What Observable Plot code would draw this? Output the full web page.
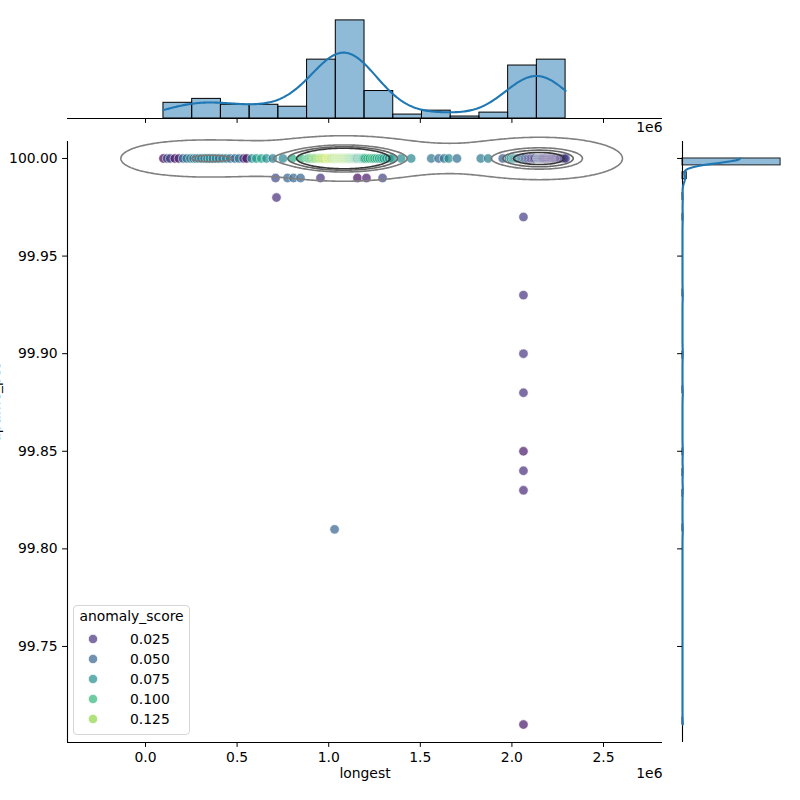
<!DOCTYPE html>
<html>
<head>
<meta charset="utf-8">
<script src="https://cdn.jsdelivr.net/npm/d3@7"></script>
<script src="https://cdn.jsdelivr.net/npm/@observablehq/plot@0.6"></script>
<style>
  body { margin: 0; background: #fff; }
  #fig { position: relative; width: 800px; height: 800px; overflow: hidden; font-family: "DejaVu Sans", sans-serif; }
  #fig > svg, #fig > figure { position: absolute; left: 0; top: 0; margin: 0; }
</style>
</head>
<body>
<div id="fig"></div>
<script>
// ---------------------------------------------------------------------------
// Data: longest streak (in millions), uptime (%) and anomaly score per record
// ---------------------------------------------------------------------------

// Records at 100 % uptime
const fullLongest = [
  0.098, 0.118, 0.135, 0.160, 0.182, 0.205, 0.225, 0.245,
  0.262, 0.276, 0.290, 0.305, 0.322, 0.338, 0.352, 0.368, 0.385, 0.402,
  0.420, 0.440, 0.462, 0.488, 0.510, 0.535, 0.552,
  0.580, 0.605, 0.632, 0.660, 0.695,
  0.750, 0.800, 0.850,
  0.885, 0.892, 0.900, 0.906, 0.913, 0.920, 0.926, 0.933, 0.940, 0.946,
  0.952, 0.958, 0.964, 0.970, 0.976, 0.981, 0.987, 0.992, 0.997, 1.002,
  1.007, 1.012, 1.016, 1.020, 1.025, 1.029, 1.033, 1.037,
  1.040, 1.043, 1.046, 1.049, 1.052, 1.055, 1.058, 1.061, 1.064, 1.067,
  1.070, 1.073, 1.076, 1.079, 1.082, 1.085, 1.088, 1.091, 1.094, 1.097,
  1.100, 1.103, 1.106, 1.109, 1.112, 1.115, 1.118, 1.121, 1.124, 1.127,
  1.130, 1.133, 1.136, 1.139, 1.142, 1.145, 1.148, 1.151, 1.154, 1.158,
  1.162, 1.166, 1.170, 1.174, 1.178, 1.182, 1.186, 1.190, 1.194,
  1.200, 1.212, 1.225, 1.238, 1.250, 1.262, 1.275, 1.288, 1.300, 1.315, 1.330, 1.345,
  1.395, 1.450,
  1.560, 1.600, 1.630, 1.655,
  1.700,
  1.830, 1.870, 1.950,
  1.985, 1.995, 2.005, 2.013, 2.020, 2.028, 2.035, 2.042, 2.050, 2.057,
  2.064, 2.072, 2.080, 2.088, 2.096, 2.104, 2.112, 2.120, 2.128,
  2.138, 2.143, 2.148, 2.153, 2.158, 2.163, 2.168, 2.173, 2.178, 2.183,
  2.188, 2.193, 2.198, 2.203, 2.208, 2.213, 2.218, 2.223, 2.228, 2.233,
  2.238, 2.243, 2.248, 2.253, 2.258, 2.263, 2.270, 2.277, 2.285, 2.293
];
const fullScore = [
  0.004, 0.038, 0.030, 0.012, 0.018, 0.052, 0.058, 0.062,
  0.062, 0.055, 0.068, 0.060, 0.070, 0.064, 0.072, 0.062, 0.068, 0.056,
  0.064, 0.070, 0.055, 0.048, 0.062, 0.022, 0.010,
  0.074, 0.082, 0.090, 0.076, 0.066,
  0.070, 0.095, 0.102,
  0.098, 0.106, 0.112, 0.100, 0.118, 0.108, 0.124, 0.115, 0.128, 0.110,
  0.126, 0.133, 0.120, 0.138, 0.130, 0.122, 0.136, 0.150, 0.132, 0.127,
  0.140, 0.134, 0.119, 0.129, 0.137, 0.123, 0.116, 0.131,
  0.125, 0.118, 0.132, 0.121, 0.128, 0.135, 0.119, 0.126, 0.131, 0.114,
  0.127, 0.122, 0.133, 0.117, 0.129, 0.124, 0.112, 0.130, 0.120, 0.126,
  0.116, 0.128, 0.110, 0.123, 0.118, 0.105, 0.121, 0.113, 0.108, 0.119,
  0.102, 0.114, 0.106, 0.111, 0.098, 0.109, 0.104, 0.096, 0.107, 0.042,
  0.100, 0.094, 0.103, 0.092, 0.099, 0.088, 0.097, 0.090, 0.086,
  0.095, 0.100, 0.092, 0.104, 0.088, 0.098, 0.094, 0.086, 0.090, 0.082, 0.078, 0.080,
  0.074, 0.070,
  0.060, 0.052, 0.058, 0.072,
  0.056,
  0.062, 0.066, 0.045,
  0.080, 0.070, 0.090, 0.066, 0.074, 0.062, 0.078, 0.058, 0.070, 0.048,
  0.064, 0.040, 0.034, 0.046, 0.028, 0.036, 0.024, 0.032, 0.020,
  0.068, 0.030, 0.038, 0.022, 0.074, 0.026, 0.034, 0.016, 0.040, 0.020,
  0.028, 0.012, 0.036, 0.018, 0.024, 0.032, 0.014, 0.026, 0.020, 0.030,
  0.022, 0.018, 0.026, 0.028, 0.024, 0.030, 0.026, 0.022, 0.028, 0.030
];

// Records with uptime below 100 %
const dipLongest = [0.710, 0.715, 0.775, 0.808, 0.846, 0.955, 1.032, 1.157, 1.206, 1.294,
                    2.063, 2.063, 2.063, 2.063, 2.063, 2.063, 2.063, 2.063];
const dipUptime  = [99.99, 99.98, 99.99, 99.99, 99.99, 99.99, 99.81, 99.99, 99.99, 99.99,
                    99.97, 99.93, 99.90, 99.88, 99.85, 99.84, 99.83, 99.71];
const dipScore   = [0.036, 0.022, 0.050, 0.052, 0.050, 0.024, 0.050, 0.008, 0.014, 0.034,
                    0.030, 0.024, 0.026, 0.025, 0.014, 0.022, 0.020, 0.012];

const xTicks = [0, 0.5, 1, 1.5, 2, 2.5];
const yTicks = [99.75, 99.80, 99.85, 99.90, 99.95, 100.00];
const legendScores = [0.025, 0.050, 0.075, 0.100, 0.125];

// ---------------------------------------------------------------------------
// Layout and styling
// ---------------------------------------------------------------------------
const X_DOMAIN = [-0.4258, 2.822];
const Y_DOMAIN = [99.7008, 100.0087];
const FONT = "DejaVu Sans";
const FS = 13.9;
const TICK = 4.9;
const HIST_FILL = "#1f77b4";

const rows = [
  ...fullLongest.map((v, i) => ({longest: v, uptime: 100, score: fullScore[i]})),
  ...dipLongest.map((v, i) => ({longest: v, uptime: dipUptime[i], score: dipScore[i]}))
];

const gauss = u => Math.exp(-0.5 * u * u) / Math.sqrt(2 * Math.PI);

// ---- marginal histogram + KDE along x ------------------------------------
const xs = rows.map(d => d.longest);
const [xMin, xMax] = d3.extent(xs);
const X_BINS = 14;
const xStep = (xMax - xMin) / X_BINS;
const xEdges = d3.range(1, X_BINS).map(i => xMin + i * xStep);
const xBins = d3.bin().domain([xMin, xMax]).thresholds(xEdges)(xs)
  .map(b => ({x1: b.x0, x2: b.x1, count: b.length}));
const KDE_BW_X = 0.14;
const kdeX = d3.range(301).map(i => {
  const x = xMin + i * (xMax - xMin) / 300;
  return {x, y: d3.sum(xs, v => gauss((x - v) / KDE_BW_X)) / KDE_BW_X * xStep};
});

// ---- marginal histogram + KDE along y ------------------------------------
const ys = rows.map(d => d.uptime);
const [yMin, yMax] = d3.extent(ys);
const Y_BINS = 82;
const yStep = (yMax - yMin) / Y_BINS;
const yEdges = d3.range(1, Y_BINS).map(i => yMin + i * yStep);
const yBins = d3.bin().domain([yMin, yMax]).thresholds(yEdges)(ys)
  .map(b => ({y1: b.x0, y2: b.x1, count: b.length}))
  .filter(b => b.count > 0);
const KDE_BW_Y = 0.0024;
const kdeY = d3.range(601).map(i => {
  const y = yMin + i * (yMax - yMin) / 600;
  return {y, x: d3.sum(ys, v => gauss((y - v) / KDE_BW_Y)) / KDE_BW_Y * yStep};
});

// ---- bivariate density contours of the full-uptime band -------------------
const band = rows.filter(d => d.uptime >= 99.995);
const SX = 0.15, SY = 0.0041;
const gx0 = -0.6, gdx = 0.01, nx = 361;
const gy0 = 99.95, gdy = 0.0005, ny = 201;
const kx = d3.range(nx).map(i => band.map(d => Math.exp(-0.5 * ((gx0 + i * gdx - d.longest) / SX) ** 2)));
const ky = d3.range(ny).map(j => band.map(d => Math.exp(-0.5 * ((gy0 + j * gdy - d.uptime) / SY) ** 2)));
const grid = new Float64Array(nx * ny);
for (let j = 0; j < ny; j++) {
  const kyj = ky[j];
  for (let i = 0; i < nx; i++) {
    const kxi = kx[i];
    let s = 0;
    for (let p = 0; p < band.length; p++) s += kxi[p] * kyj[p];
    grid[j * nx + i] = s;
  }
}
const peak = d3.max(grid);
const contourLevels = [0.0176, 0.24, 0.34, 0.44];
const contourStrokes = ["#808080", "#7a7a7a", "#666666", "#383838"];
const contours = d3.contours().size([nx, ny]).thresholds(contourLevels.map(f => f * peak))(grid);
let ringId = 0;
const contourLines = contours.map(c => {
  const pts = [];
  for (const poly of c.coordinates) for (const ring of poly) {
    ringId++;
    for (const [gx, gy] of ring) pts.push({x: gx0 + (gx - 0.5) * gdx, y: gy0 + (gy - 0.5) * gdy, ring: ringId});
  }
  return pts;
});

// ---------------------------------------------------------------------------
// Joint scatter
// ---------------------------------------------------------------------------
const fig = document.getElementById("fig");
const baseStyle = {fontFamily: FONT, fontSize: FS + "px", background: "transparent", overflow: "visible", color: "black"};

const jointPlot = Plot.plot({
  width: 800, height: 800,
  marginLeft: 67, marginRight: 138, marginTop: 141, marginBottom: 58,
  style: baseStyle,
  x: {domain: X_DOMAIN},
  y: {domain: Y_DOMAIN},
  color: {type: "linear", scheme: "viridis", domain: d3.extent(rows, d => d.score)},
  marks: [
    Plot.dot(rows, {x: "longest", y: "uptime", fill: "score", r: 4.7, fillOpacity: 0.7,
                    stroke: "white", strokeWidth: 0.8, strokeOpacity: 0.7}),
    ...contourLines.map((pts, k) => Plot.line(pts, {x: "x", y: "y", z: "ring",
                    stroke: contourStrokes[k], strokeWidth: 1.6})),
    Plot.ruleX([X_DOMAIN[0]], {stroke: "black", strokeWidth: 1.1}),
    Plot.ruleY([Y_DOMAIN[0]], {stroke: "black", strokeWidth: 1.1}),
    Plot.axisX({ticks: xTicks, tickFormat: d3.format(".1f"), tickSize: TICK, tickPadding: TICK, label: null}),
    Plot.axisY({ticks: yTicks, tickFormat: d3.format(".2f"), tickSize: TICK, tickPadding: TICK, label: null}),
    Plot.text(["longest"], {frameAnchor: "bottom", dy: 35, fontSize: FS}),
    Plot.text(["1e6"], {frameAnchor: "bottom-right", textAnchor: "end", dy: 35, fontSize: FS}),
    Plot.text(["uptime_pct"], {frameAnchor: "left", rotate: -90, dx: -68, lineAnchor: "bottom", fontSize: FS})
  ]
});
fig.appendChild(jointPlot);

// ---------------------------------------------------------------------------
// Top marginal: distribution of longest
// ---------------------------------------------------------------------------
const topMargin = Plot.plot({
  width: 800, height: 140,
  marginLeft: 67, marginRight: 138, marginTop: 15, marginBottom: 22,
  style: baseStyle,
  x: {domain: X_DOMAIN},
  y: {domain: [0, d3.max(xBins, b => b.count) * 1.05], axis: null},
  marks: [
    Plot.rectY(xBins, {x1: "x1", x2: "x2", y: "count", fill: HIST_FILL, fillOpacity: 0.5,
                       stroke: "black", strokeWidth: 1}),
    Plot.line(kdeX, {x: "x", y: "y", stroke: HIST_FILL, strokeWidth: 2.1}),
    Plot.ruleY([0], {stroke: "black", strokeWidth: 1.1}),
    Plot.axisX({ticks: xTicks, tickFormat: () => "", tickSize: TICK, label: null}),
    Plot.text(["1e6"], {frameAnchor: "bottom-right", textAnchor: "end", dy: 13, fontSize: FS})
  ]
});
fig.appendChild(topMargin);

// ---------------------------------------------------------------------------
// Right marginal: distribution of uptime
// ---------------------------------------------------------------------------
const sideMargin = Plot.plot({
  width: 800, height: 800,
  marginLeft: 682, marginRight: 15, marginTop: 141, marginBottom: 58,
  style: baseStyle,
  x: {domain: [0, d3.max(yBins, b => b.count) * 1.05], axis: null},
  y: {domain: Y_DOMAIN},
  marks: [
    Plot.rectX(yBins, {y1: "y1", y2: "y2", x: "count", fill: HIST_FILL, fillOpacity: 0.5,
                       stroke: "#222", strokeWidth: 1}),
    Plot.ruleX([0], {stroke: "black", strokeWidth: 1.1}),
    Plot.line(kdeY, {x: "x", y: "y", stroke: HIST_FILL, strokeWidth: 2.1}),
    Plot.axisY({ticks: yTicks, tickFormat: () => "", tickSize: TICK, anchor: "left", label: null})
  ]
});
fig.appendChild(sideMargin);

// ---------------------------------------------------------------------------
// Legend for anomaly_score
// ---------------------------------------------------------------------------
const colorScale = jointPlot.scale("color");
const legend = document.createElement("div");
legend.style.cssText = `position:absolute;left:73px;top:605px;width:117px;height:130px;box-sizing:border-box;
  border:1px solid #d6d6d6;border-radius:4px;background:rgba(255,255,255,0.8);
  font-family:"${FONT}";font-size:${FS}px;color:#000;`;
const legendTitle = document.createElement("div");
legendTitle.textContent = "anomaly_score";
legendTitle.style.cssText = "position:absolute;left:0;width:100%;top:2px;line-height:16px;text-align:center;";
legend.appendChild(legendTitle);
legendScores.forEach((v, i) => {
  const cy = 33 + i * 20;
  const ns = "http://www.w3.org/2000/svg";
  const svg = document.createElementNS(ns, "svg");
  svg.setAttribute("width", 14); svg.setAttribute("height", 14);
  svg.style.cssText = `position:absolute;left:${19 - 7}px;top:${cy - 7}px;`;
  const c = document.createElementNS(ns, "circle");
  c.setAttribute("cx", 7); c.setAttribute("cy", 7); c.setAttribute("r", 4.7);
  c.setAttribute("fill", colorScale.apply(v)); c.setAttribute("fill-opacity", 0.7);
  c.setAttribute("stroke", "white"); c.setAttribute("stroke-width", 0.8);
  svg.appendChild(c);
  legend.appendChild(svg);
  const lab = document.createElement("div");
  lab.textContent = d3.format(".3f")(v);
  lab.style.cssText = `position:absolute;left:56px;top:${cy - 8}px;line-height:16px;`;
  legend.appendChild(lab);
});
fig.appendChild(legend);
</script>
</body>
</html>
